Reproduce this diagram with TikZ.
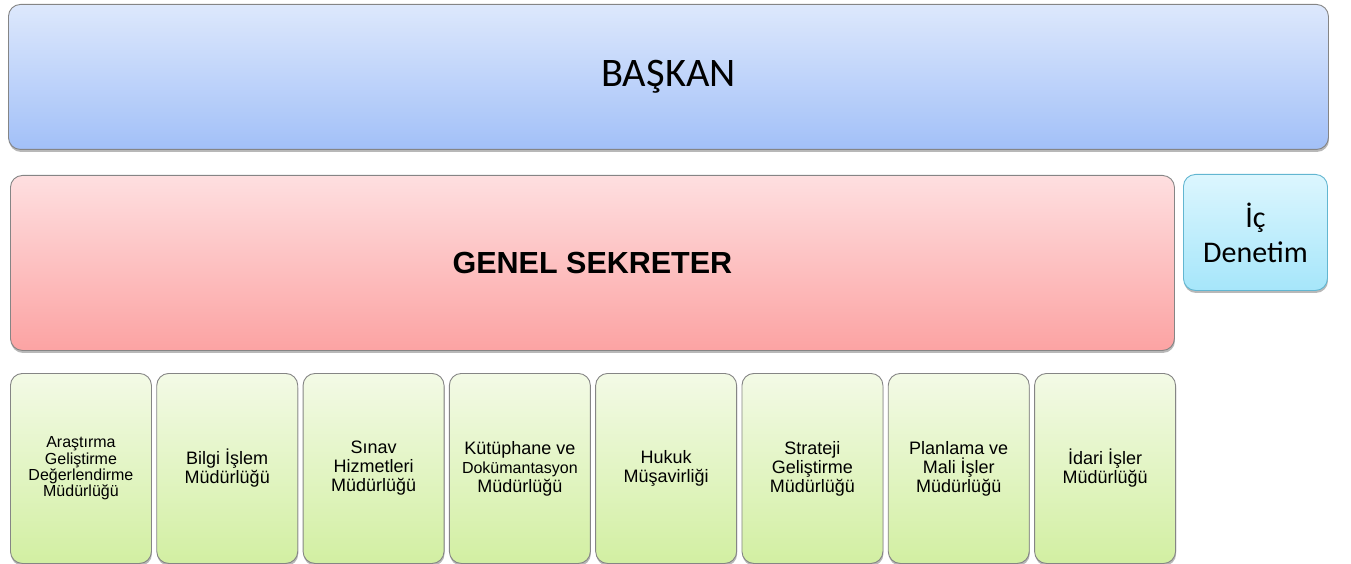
\documentclass[tikz,border=0pt]{standalone}
\usepackage{fontspec}
\setmainfont{Liberation Sans}
\newfontfamily\carl{Carlito}
\usetikzlibrary{shadows}
\definecolor{boxgray}{HTML}{858585}
\definecolor{bluetop}{HTML}{DDE8FC}
\definecolor{bluebot}{HTML}{A2C0F8}
\definecolor{redtop}{HTML}{FEDFE0}
\definecolor{redbot}{HTML}{FCA3A3}
\definecolor{cyantop}{HTML}{DCF6FE}
\definecolor{cyanbot}{HTML}{A6E6FA}
\definecolor{cyanborder}{HTML}{62B6D1}
\definecolor{greentop}{HTML}{F3FAE6}
\definecolor{greenbot}{HTML}{D2EFA2}
\tikzset{
  box/.style={draw=boxgray, line width=0.9pt, rounded corners=12pt, anchor=north west,
    inner sep=0pt, align=center,
    drop shadow={shadow xshift=0.5pt, shadow yshift=-2.5pt, opacity=0.28, fill=black}},
  bluebox/.style={box, top color=bluetop, bottom color=bluebot},
  redbox/.style={box, top color=redtop, bottom color=redbot},
  cyanbox/.style={box, draw=cyanborder, top color=cyantop, bottom color=cyanbot},
  unitbox/.style={box, top color=greentop, bottom color=greenbot,
    minimum width=141pt, minimum height=190pt,
    font=\fontsize{18}{19}\selectfont},
}
\begin{document}
\begin{tikzpicture}[x=1pt,y=-1pt]
\useasboundingbox (0,0) rectangle (1351,564);
\node[bluebox, minimum width=1320pt, minimum height=145pt,
  font=\carl\fontsize{40.5}{42}\selectfont] (baskan) at (8,4) {BAŞKAN};
\node[redbox, minimum width=1164pt, minimum height=175pt,
  font=\bfseries\fontsize{30.5}{32}\selectfont] (genel) at (10,175) {GENEL SEKRETER};
\node[cyanbox, minimum width=144pt, minimum height=116pt,
  font=\carl\fontsize{30}{35}\selectfont] (ic) at (1183,174) {İç\\Denetim};
\node[unitbox, font=\fontsize{16}{16.3}\selectfont] (u1) at (10,373)
  {Araştırma\\Geliştirme\\Değerlendirme\\Müdürlüğü};
\node[unitbox] (u2) at (156.3,373) {Bilgi İşlem\\Müdürlüğü};
\node[unitbox] (u3) at (302.6,373) {Sınav\\Hizmetleri\\Müdürlüğü};
\node[unitbox] (u4) at (448.9,373)
  {Kütüphane ve\\{\fontsize{16}{16}\selectfont Dokümantasyon}\\Müdürlüğü};
\node[unitbox] (u5) at (595.2,373) {Hukuk\\Müşavirliği};
\node[unitbox] (u6) at (741.5,373) {Strateji\\Geliştirme\\Müdürlüğü};
\node[unitbox] (u7) at (887.8,373) {Planlama ve\\Mali İşler\\Müdürlüğü};
\node[unitbox] (u8) at (1034.1,373) {İdari İşler\\Müdürlüğü};
\end{tikzpicture}
\end{document}
